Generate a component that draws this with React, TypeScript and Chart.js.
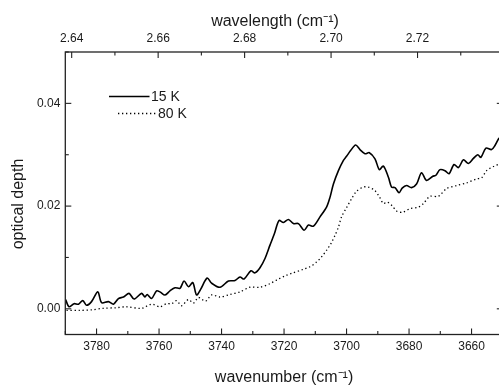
import React, { useEffect, useRef } from 'react';
import { Chart, registerables } from 'chart.js';
Chart.register(...registerables);

const wn15 = [3789.9, 3788.8, 3787.2, 3785.8, 3784.4, 3783.2, 3781.6, 3779.6, 3778.4, 3776.2, 3774.6, 3773.0, 3771.4, 3769.6, 3768.0, 3765.6, 3764.5, 3763.8, 3762.4, 3760.8, 3759.7, 3758.1, 3756.5, 3754.9, 3753.3, 3752.0, 3750.6, 3749.2, 3748.0, 3746.7, 3744.6, 3743.2, 3740.5, 3737.8, 3735.7, 3734.1, 3732.8, 3730.6, 3729.3, 3727.7, 3726.1, 3724.5, 3723.1, 3721.6, 3720.2, 3718.6, 3717.0, 3715.4, 3713.6, 3712.2, 3710.6, 3708.5, 3706.4, 3705.3, 3704.2, 3702.6, 3701.0, 3700.0, 3698.7, 3697.1, 3695.7, 3694.1, 3692.7, 3690.9, 3689.5, 3688.2, 3686.6, 3685.6, 3684.5, 3683.2, 3682.2, 3680.8, 3679.2, 3677.6, 3676.0, 3674.4, 3672.4, 3671.4, 3670.1, 3668.5, 3667.2, 3665.6, 3664.2, 3662.6, 3661.0, 3659.4, 3658.0, 3657.0, 3655.4, 3653.6, 3652.5, 3651.2];
const od15 = [0.0018, 0.0004, 0.001, 0.0009, 0.0016, 0.0007, 0.0014, 0.0033, 0.0012, 0.0014, 0.0009, 0.002, 0.0023, 0.003, 0.0019, 0.003, 0.0023, 0.0028, 0.002, 0.0035, 0.0033, 0.0027, 0.0035, 0.0041, 0.004, 0.0054, 0.0043, 0.0051, 0.0027, 0.0038, 0.006, 0.005, 0.0042, 0.0054, 0.0055, 0.0062, 0.0058, 0.0074, 0.007, 0.008, 0.0098, 0.0124, 0.0146, 0.0172, 0.0168, 0.0174, 0.0166, 0.0166, 0.0153, 0.0163, 0.0161, 0.0179, 0.0198, 0.0217, 0.0243, 0.0269, 0.0289, 0.0297, 0.0308, 0.0319, 0.031, 0.0302, 0.0304, 0.0292, 0.0271, 0.0278, 0.0256, 0.0237, 0.0236, 0.0226, 0.0235, 0.024, 0.0236, 0.0243, 0.0265, 0.025, 0.0258, 0.026, 0.0271, 0.0269, 0.0263, 0.0281, 0.0275, 0.029, 0.0283, 0.0293, 0.03, 0.0295, 0.0313, 0.031, 0.0318, 0.0333];

const wn80 = [3789.6, 3785.3, 3781.5, 3777.9, 3774, 3770.4, 3765.6, 3762.4, 3759.7, 3757.6, 3756.0, 3754.4, 3752.8, 3750.6, 3749.0, 3747.4, 3745.1, 3743.2, 3740.5, 3737.3, 3734.1, 3730.9, 3727.7, 3724.5, 3722.4, 3719.4, 3717.6, 3713.8, 3711.7, 3709.6, 3708.0, 3706.4, 3705.0, 3703.7, 3702.6, 3701.6, 3700.0, 3698.4, 3696.8, 3694.6, 3693.0, 3690.9, 3689.3, 3688.2, 3687.0, 3685.5, 3683.9, 3682.0, 3679.7, 3677.0, 3675.4, 3673.3, 3670.6, 3668.0, 3664.8, 3661.6, 3658.4, 3656.8, 3655.2, 3653.0, 3651.2];
const od80 = [-0.0003, -0.0003, -0.0002, 0.0001, 0.0002, 0.0004, 0.0001, 0.0009, 0.0004, 0.001, 0.001, 0.0016, 0.0006, 0.0018, 0.0011, 0.0022, 0.0015, 0.0027, 0.0023, 0.0028, 0.0033, 0.0042, 0.0042, 0.0049, 0.0056, 0.0065, 0.0069, 0.0077, 0.0082, 0.0091, 0.0101, 0.0114, 0.0127, 0.0143, 0.0159, 0.0179, 0.0197, 0.0214, 0.0229, 0.0237, 0.0237, 0.023, 0.0216, 0.0205, 0.0208, 0.0201, 0.019, 0.0188, 0.0195, 0.0198, 0.0205, 0.0219, 0.0219, 0.0234, 0.024, 0.0245, 0.0253, 0.0255, 0.0269, 0.0277, 0.0282];

const bottomTicks = [3780, 3760, 3740, 3720, 3700, 3680, 3660];
const topTicks = [2.64, 2.66, 2.68, 2.7, 2.72];
const leftTicks = [0, 0.02, 0.04];
const seriesNames = ['15 K', '80 K'];
const topTitle = 'wavelength (cm⁻¹)';
const leftTitle = 'optical depth';

const FAMILY = '"Liberation Sans", Arial, Helvetica, sans-serif';
const INK = '#1a1a1a';

const framePlugin = {
  id: 'frame',
  afterDraw(chart: any) {
    const { ctx, chartArea: a, scales } = chart;
    ctx.save();
    ctx.strokeStyle = '#222';
    ctx.lineWidth = 1.3;
    ctx.strokeRect(a.left, a.top, a.right - a.left, a.bottom - a.top);
    const seg = (x1: number, y1: number, x2: number, y2: number) => {
      ctx.beginPath();
      ctx.moveTo(x1, y1);
      ctx.lineTo(x2, y2);
      ctx.stroke();
    };
    ctx.lineWidth = 1.1;
    for (let v = 3650; v <= 3790; v += 10) {
      const px = scales.x.getPixelForValue(v);
      const len = v % 20 === 0 ? 6 : 3.5;
      seg(px, a.bottom, px, a.bottom - len);
    }
    for (let i = 264; i <= 274; i++) {
      const px = scales.x2.getPixelForValue(i / 100);
      if (px < a.left - 0.5 || px > a.right + 0.5) continue;
      const len = i % 2 === 0 ? 6 : 3.5;
      seg(px, a.top, px, a.top + len);
    }
    for (let i = 0; i <= 5; i++) {
      const py = scales.y.getPixelForValue(i / 100);
      const len = i % 2 === 0 ? 6 : 3.5;
      seg(a.left, py, a.left + len, py);
      seg(a.right, py, a.right - len, py);
    }
    // axis titles (top and left)
    ctx.fillStyle = INK;
    ctx.font = `16px ${FAMILY}`;
    ctx.textAlign = 'center';
    ctx.textBaseline = 'middle';
    ctx.fillText(topTitle, 275, 21.5);
    ctx.save();
    ctx.translate(18.5, 204);
    ctx.rotate(-Math.PI / 2);
    ctx.fillText(leftTitle, 0, 0);
    ctx.restore();
    // legend
    ctx.font = `14px ${FAMILY}`;
    ctx.textAlign = 'left';
    ctx.strokeStyle = '#000';
    ctx.lineWidth = 1.6;
    seg(109, 96.5, 149.5, 96.5);
    ctx.fillText(seriesNames[0], 151, 97);
    ctx.lineWidth = 1.3;
    ctx.setLineDash([1.3, 2.7]);
    seg(118, 113.5, 156.5, 113.5);
    ctx.setLineDash([]);
    ctx.fillText(seriesNames[1], 158, 114);
    ctx.restore();
  },
};

export default function App() {
  const ref = useRef<HTMLCanvasElement>(null);
  useEffect(() => {
    if (!ref.current) return;
    const tickFont = { family: FAMILY, size: 12 };
    const titleFont = { family: FAMILY, size: 16 };
    const chart = new Chart(ref.current, {
      type: 'line',
      data: {
        datasets: [
          {
            label: seriesNames[0],
            data: wn15.map((x, i) => ({ x, y: od15[i] })),
            borderColor: '#000',
            borderWidth: 1.6,
            pointRadius: 0,
            tension: 0.3,
            fill: false,
            xAxisID: 'x',
            yAxisID: 'y',
          },
          {
            label: seriesNames[1],
            data: wn80.map((x, i) => ({ x, y: od80[i] })),
            borderColor: '#000',
            borderWidth: 1.3,
            borderDash: [1.3, 2.7],
            pointRadius: 0,
            tension: 0.3,
            fill: false,
            xAxisID: 'x',
            yAxisID: 'y',
          },
        ],
      },
      options: {
        responsive: false,
        animation: false,
        layout: { padding: { left: 0, right: 2.2, top: 0, bottom: 0 } },
        plugins: { legend: { display: false }, tooltip: { enabled: false } },
        scales: {
          x: {
            type: 'linear',
            position: 'bottom',
            reverse: true,
            min: 3650,
            max: 3790,
            grid: { display: false, drawTicks: false },
            border: { display: false },
            afterBuildTicks: (s: any) => { s.ticks = bottomTicks.map((v) => ({ value: v })); },
            afterFit: (s: any) => { s.height = 54.5; },
            ticks: { autoSkip: false, maxRotation: 0, padding: 5, color: INK, font: tickFont, callback: (v: any) => String(v) },
            title: { display: true, text: 'wavenumber (cm⁻¹)', color: INK, font: titleFont, padding: { top: 0, bottom: 2 } },
          },
          x2: {
            type: 'linear',
            position: 'top',
            min: 10000 / 3790,
            max: 10000 / 3650,
            grid: { display: false, drawTicks: false },
            border: { display: false },
            afterBuildTicks: (s: any) => { s.ticks = topTicks.map((v) => ({ value: v })); },
            afterFit: (s: any) => { s.height = 52; },
            ticks: { autoSkip: false, maxRotation: 0, padding: 6, color: INK, font: tickFont, callback: (v: any) => Number(v).toFixed(2) },
            title: { display: false },
          },
          y: {
            type: 'linear',
            position: 'left',
            min: -0.005,
            max: 0.05,
            grid: { display: false, drawTicks: false },
            border: { display: false },
            afterBuildTicks: (s: any) => { s.ticks = leftTicks.map((v) => ({ value: v })); },
            afterFit: (s: any) => { s.width = 65.3; },
            ticks: { autoSkip: false, padding: 5, color: INK, font: tickFont, callback: (v: any) => Number(v).toFixed(2) },
            title: { display: false },
          },
        },
      },
      plugins: [framePlugin],
    } as any);
    return () => chart.destroy();
  }, []);
  return (
    <div style={{ position: 'absolute', left: 0, top: 0, width: 499, height: 389, overflow: 'hidden', background: '#fff' }}>
      <canvas ref={ref} width={505} height={389} style={{ width: 505, height: 389, display: 'block' }} />
    </div>
  );
}
